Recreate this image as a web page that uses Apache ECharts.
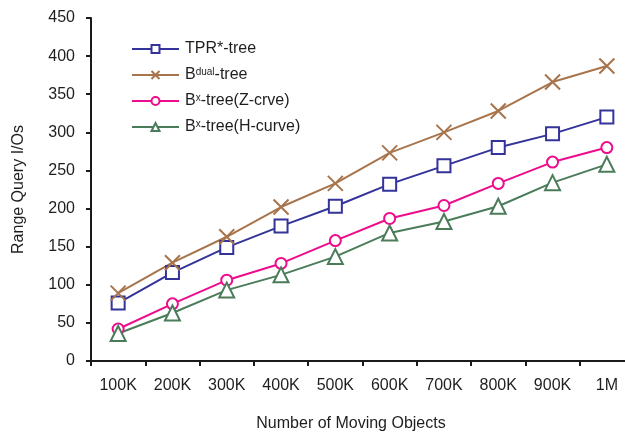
<!DOCTYPE html>
<html>
<head>
<meta charset="utf-8">
<title>Range Query I/Os</title>
<script src="https://cdn.jsdelivr.net/npm/echarts@6/dist/echarts.min.js"></script>
<style>
  html, body { margin: 0; padding: 0; background: #fff; overflow: hidden; width: 625px; height: 437px; }
  /* canvas is a little wider than the page so the last category band runs off the right edge */
  #chart { width: 640px; height: 437px; }
</style>
</head>
<body>
<div id="chart"></div>
<script>
// Dataset sizes (x axis categories)
const categories = ['100K', '200K', '300K', '400K', '500K', '600K', '700K', '800K', '900K', '1M'];

// Range query I/O cost per index
const tprStar = [76, 116, 149, 177, 203, 232, 256, 280, 298, 320];
const bDual   = [89, 129, 163, 202, 233, 273, 300, 328, 366, 387];
const bxZ     = [42, 75, 106, 128, 158, 187, 204, 233, 261, 280];
const bxH     = [36, 63, 93, 113, 137, 168, 183, 203, 234, 258];

// y axis ticks
const yTicks = { min: 0, max: 450, interval: 50 };

const FONT = '"Liberation Sans", Arial, Helvetica, sans-serif';
const TEXT = '#1e1e1e';

const names = ['TPR*-tree', 'Bdual-tree', 'Bx-tree(Z-crve)', 'Bx-tree(H-curve)'];
// Legend labels with superscripts
const legendText = {
  'TPR*-tree': '{n|TPR*-tree}',
  'Bdual-tree': '{n|B}{sup|dual}{n|-tree}',
  'Bx-tree(Z-crve)': '{n|B}{sup|x}{n|-tree(Z-crve)}',
  'Bx-tree(H-curve)': '{n|B}{sup|x}{n|-tree(H-curve)}'
};

function lineSeries(name, data, color, symbol, size) {
  return {
    name: name,
    type: 'line',
    data: data,
    symbol: symbol,
    symbolSize: size,
    showAllSymbol: true,
    lineStyle: { color: color, width: 2 },
    itemStyle: { color: color, borderColor: color, borderWidth: 2 },
    emphasis: { disabled: true },
    z: 3
  };
}

const chart = echarts.init(document.getElementById('chart'), null, { renderer: 'canvas' });

chart.setOption({
  animation: false,
  backgroundColor: '#ffffff',
  textStyle: { fontFamily: FONT },
  grid: { left: 91, width: 543, top: 18, height: 349, containLabel: false },
  legend: {
    orient: 'vertical',
    left: 126,
    top: 36,
    itemWidth: 47,
    itemHeight: 10,
    itemGap: 10,
    data: names,
    formatter: function (n) { return legendText[n]; },
    textStyle: {
      fontFamily: FONT,
      color: TEXT,
      padding: [0, 0, 0, 1],
      rich: {
        n: { fontSize: 16, lineHeight: 16, color: TEXT, fontFamily: FONT },
        sup: { fontSize: 10, lineHeight: 16, verticalAlign: 'top', color: TEXT, fontFamily: FONT }
      }
    }
  },
  xAxis: {
    type: 'category',
    data: categories,
    boundaryGap: true,
    name: 'Number of Moving Objects',
    nameLocation: 'middle',
    nameGap: 55,
    nameTextStyle: { fontSize: 16, color: TEXT, fontFamily: FONT, padding: [0, 23, 0, 0], verticalAlign: 'top' },
    axisLine: { lineStyle: { color: '#1a1a1a', width: 2 } },
    axisTick: { show: true, length: 5, alignWithLabel: false, lineStyle: { color: '#1a1a1a', width: 2 } },
    axisLabel: { fontSize: 16, color: TEXT, margin: 17, fontFamily: FONT },
    splitLine: { show: false }
  },
  yAxis: {
    type: 'value',
    min: yTicks.min,
    max: yTicks.max,
    interval: yTicks.interval,
    name: 'Range Query I/Os',
    nameLocation: 'middle',
    nameGap: 64,
    nameTextStyle: { fontSize: 16, color: TEXT, fontFamily: FONT },
    axisLine: { show: true, lineStyle: { color: '#1a1a1a', width: 2 } },
    axisTick: { show: true, length: 5, lineStyle: { color: '#1a1a1a', width: 2 } },
    axisLabel: { fontSize: 16, color: TEXT, margin: 16, fontFamily: FONT },
    splitLine: { show: false }
  },
  series: [
    lineSeries(names[0], tprStar, '#33339a', 'emptyRect', 13),
    lineSeries(names[1], bDual, '#a8744c', 'path://M0,0L10,10M10,0L0,10', 15),
    lineSeries(names[2], bxZ, '#ec0c8c', 'emptyCircle', 11),
    lineSeries(names[3], bxH, '#4a7c5a', 'emptyTriangle', 15)
  ]
});
</script>
</body>
</html>
